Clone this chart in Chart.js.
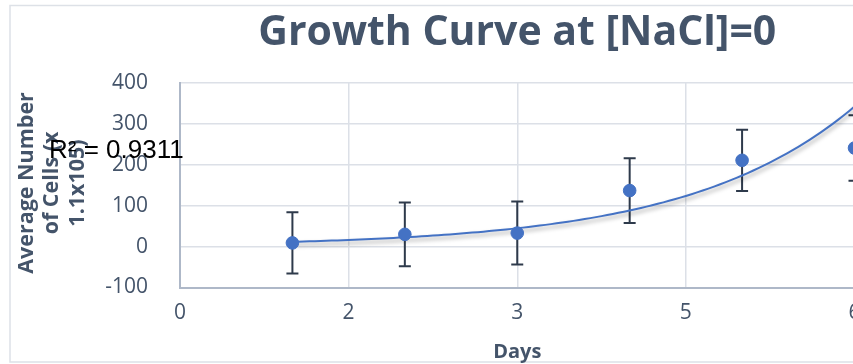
<!DOCTYPE html>
<html>
<head>
<meta charset="utf-8">
<script src="https://cdn.jsdelivr.net/npm/chart.js@4/dist/chart.umd.min.js"></script>
<style>
  html, body { margin: 0; padding: 0; background: #fff; overflow: hidden; }
  #wrap { position: relative; width: 853px; height: 364px; overflow: hidden; }
  #wrap canvas { position: absolute; left: 0; top: 0; }
</style>
</head>
<body>
<div id="wrap"><canvas id="growth" width="880" height="364"></canvas></div>
<script>
// Growth at [NaCl]=0: mean cell counts per day with standard deviations
const days = [1, 2, 3, 4, 5, 6];
const meanCells = [9, 30, 33, 137, 211, 241];
const stdDev = [75, 78, 77, 79, 75, 80];

// Axis ticks
const xTickValues = [0, 1.5, 3, 4.5, 6];
const xTickLabels = ['0', '2', '3', '5', '6'];
const yTickValues = [-100, 0, 100, 200, 300, 400];

const chartTitle = 'Growth Curve at [NaCl]=0';
const xAxisTitle = 'Days';
const yAxisTitleLines = ['Average Number', 'of Cells (x', '1.1x105)'];
const rSquared = 0.9311;

// Exponential trendline y = a*e^(b*x), least-squares fit on ln(y)
function expFit(xs, ys) {
  const n = xs.length;
  const ly = ys.map(v => Math.log(v));
  const mx = xs.reduce((s, v) => s + v, 0) / n;
  const my = ly.reduce((s, v) => s + v, 0) / n;
  let sxy = 0, sxx = 0;
  for (let i = 0; i < n; i++) {
    sxy += (xs[i] - mx) * (ly[i] - my);
    sxx += (xs[i] - mx) * (xs[i] - mx);
  }
  const b = sxy / sxx;
  return { a: Math.exp(my - b * mx), b };
}
const fit = expFit(days, meanCells);
const trendPoints = [];
for (let x = days[0]; x <= days[days.length - 1] + 1e-9; x += 0.05) {
  trendPoints.push({ x, y: fit.a * Math.exp(fit.b * x) });
}

const SLATE = '#44546A';
const BLUE = '#4472C4';

// Frame, title, rotated y-axis title, R² label and error bars
const decorations = {
  id: 'decorations',
  beforeDraw(chart) {
    const { ctx } = chart;
    ctx.save();
    ctx.fillStyle = '#fff';
    ctx.fillRect(0, 0, chart.width, chart.height);
    ctx.strokeStyle = '#DDE1E7';
    ctx.lineWidth = 1.5;
    ctx.strokeRect(10, 5.5, chart.width + 20, 356.5);
    ctx.restore();
  },
  beforeDatasetsDraw(chart) {
    const { ctx, scales: { x, y } } = chart;
    ctx.save();
    ctx.strokeStyle = '#2E3A4B';
    ctx.lineWidth = 2;
    days.forEach((d, i) => {
      const px = x.getPixelForValue(d);
      const top = y.getPixelForValue(meanCells[i] + stdDev[i]);
      const bot = y.getPixelForValue(meanCells[i] - stdDev[i]);
      ctx.beginPath();
      ctx.moveTo(px, top); ctx.lineTo(px, bot);
      ctx.moveTo(px - 6, top); ctx.lineTo(px + 6, top);
      ctx.moveTo(px - 6, bot); ctx.lineTo(px + 6, bot);
      ctx.stroke();
    });
    ctx.restore();
  },
  beforeDatasetDraw(chart, args) {
    if (args.index === 1) {
      const ctx = chart.ctx;
      ctx.save();
      ctx.shadowColor = 'rgba(0,0,0,0.35)';
      ctx.shadowBlur = 4;
      ctx.shadowOffsetX = 1;
      ctx.shadowOffsetY = 3;
    }
  },
  afterDatasetDraw(chart, args) {
    if (args.index === 1) chart.ctx.restore();
  },
  afterDraw(chart) {
    const { ctx, chartArea } = chart;
    ctx.save();
    // chart title
    ctx.fillStyle = SLATE;
    ctx.font = 'bold 41px "Open Sans"';
    ctx.textAlign = 'center';
    ctx.textBaseline = 'alphabetic';
    ctx.fillText(chartTitle, (chartArea.left + chartArea.right) / 2, 45);
    // y-axis title, three rotated lines
    ctx.font = 'bold 21.5px "Open Sans"';
    const baselines = [33, 58, 84];
    yAxisTitleLines.forEach((line, i) => {
      ctx.save();
      ctx.translate(baselines[i], 183);
      ctx.rotate(-Math.PI / 2);
      ctx.fillText(line, 0, 0);
      ctx.restore();
    });
    // trendline R² label
    ctx.fillStyle = '#000';
    ctx.font = '26px "Liberation Sans"';
    ctx.textAlign = 'left';
    ctx.fillText('R\u00B2 = ' + rSquared.toFixed(4), 49, 158);
    ctx.restore();
  }
};

new Chart(document.getElementById('growth'), {
  type: 'scatter',
  data: {
    datasets: [
      {
        label: 'Mean cells',
        data: days.map((d, i) => ({ x: d, y: meanCells[i] })),
        backgroundColor: BLUE,
        borderColor: BLUE,
        pointRadius: 6.3,
        pointHoverRadius: 6.3,
        showLine: false
      },
      {
        label: 'Expon. trendline',
        type: 'line',
        data: trendPoints,
        borderColor: BLUE,
        borderWidth: 2,
        pointRadius: 0,
        fill: false,
        tension: 0
      }
    ]
  },
  options: {
    responsive: false,
    animation: false,
    events: [],
    layout: { padding: { left: 0, top: 83, right: 25.5, bottom: 0 } },
    plugins: {
      legend: { display: false },
      tooltip: { enabled: false },
      title: { display: false }
    },
    scales: {
      x: {
        type: 'linear',
        min: 0,
        max: 6,
        afterBuildTicks(s) { s.ticks = xTickValues.map(v => ({ value: v })); },
        afterFit(s) { s.height = 76.5; s.paddingLeft = 0; s.paddingRight = 0; },
        ticks: {
          color: SLATE,
          font: { family: '"Open Sans"', size: 21 },
          padding: 13,
          maxRotation: 0,
          autoSkip: false,
          callback: (v, i) => xTickLabels[i]
        },
        grid: { color: '#DCE0E7', lineWidth: 1.5, drawTicks: false },
        border: { color: '#AEB8C8', width: 2 },
        title: {
          display: true,
          text: xAxisTitle,
          color: SLATE,
          font: { family: '"Open Sans"', size: 20, weight: 'bold' },
          padding: { top: 0, bottom: 0 }
        }
      },
      y: {
        min: -100,
        max: 400,
        afterBuildTicks(s) { s.ticks = yTickValues.map(v => ({ value: v })); },
        afterFit(s) { s.width = 180; s.paddingTop = 0; s.paddingBottom = 0; },
        ticks: {
          color: SLATE,
          font: { family: '"Open Sans"', size: 21 },
          padding: 32
        },
        grid: { color: '#DCE0E7', lineWidth: 1.5, drawTicks: false },
        border: { color: '#AEB8C8', width: 2 }
      }
    }
  },
  plugins: [decorations]
});
</script>
</body>
</html>
